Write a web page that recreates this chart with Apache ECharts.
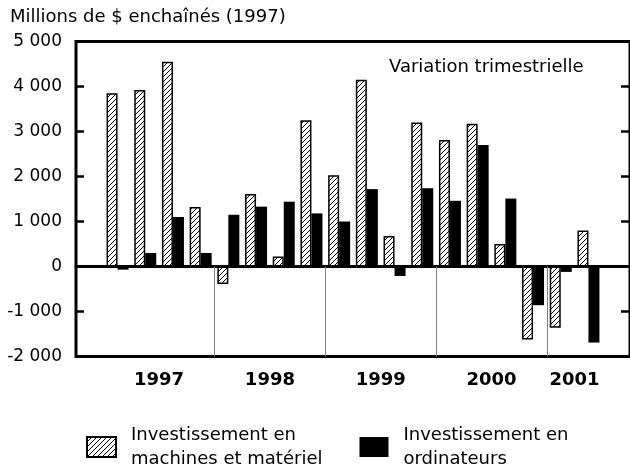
<!DOCTYPE html>
<html>
<head>
<meta charset="utf-8">
<script src="https://cdn.jsdelivr.net/npm/echarts@6/dist/echarts.min.js"></script>
<style>
  html, body { margin: 0; padding: 0; background: #fff; }
  #chart { width: 630px; height: 469px; }
</style>
</head>
<body>
<div id="chart"></div>
<script>
// trimestres, 1997 T1 -> 2001 T2
const quarters = ['1997 T1', '1997 T2', '1997 T3', '1997 T4',
  '1998 T1', '1998 T2', '1998 T3', '1998 T4',
  '1999 T1', '1999 T2', '1999 T3', '1999 T4',
  '2000 T1', '2000 T2', '2000 T3', '2000 T4',
  '2001 T1', '2001 T2'];
const machines = [3850, 3920, 4550, 1320, -390, 1610, 220, 3250,
  2030, 4150, 680, 3200, 2810, 3170, 500, -1620, -1360, 800];
const ordinateurs = [-70, 300, 1100, 300, 1150, 1330, 1440, 1180,
  1000, 1720, -210, 1740, 1460, 2700, 1510, -860, -120, -1690];
const years = ['1997', '1998', '1999', '2000', '2001'];
const yTicks = [-2000, -1000, 0, 1000, 2000, 3000, 4000, 5000];

const FONT = 'DejaVu Sans';

// one empty slot before and after the data
const categories = [''].concat(quarters, ['']);
const pad = arr => [null].concat(arr, [null]);

// year groups in slot units (slot i covers [i, i+1])
const yearCenters = [];
const yearSeparators = [];
years.forEach(y => {
  const idx = [];
  quarters.forEach((q, i) => { if (q.indexOf(y) === 0) idx.push(i + 1); });
  const first = idx[0], last = idx[idx.length - 1];
  yearCenters.push((first + last + 1) / 2);
  if (first > 1) yearSeparators.push(first);
});

function hatch() {
  const c = document.createElement('canvas');
  c.width = 5; c.height = 5;
  const ctx = c.getContext('2d');
  ctx.fillStyle = '#fff';
  ctx.fillRect(0, 0, 5, 5);
  ctx.strokeStyle = '#000';
  ctx.lineWidth = 1;
  ctx.beginPath();
  ctx.moveTo(0, 5); ctx.lineTo(5, 0);
  ctx.moveTo(-1, 1); ctx.lineTo(1, -1);
  ctx.moveTo(4, 6); ctx.lineTo(6, 4);
  ctx.stroke();
  return c;
}

function fmtNum(v) {
  const s = String(Math.abs(v)).replace(/\B(?=(\d{3})+(?!\d))/g, ' ');
  return v < 0 ? '-' + s : s;
}

const chart = echarts.init(document.getElementById('chart'), null, { renderer: 'canvas' });

chart.setOption({
  animation: false,
  backgroundColor: '#fff',
  textStyle: { fontFamily: FONT },
  title: [
    {
      text: 'Millions de $ enchaînés (1997)',
      left: 10, top: 8, padding: 0,
      textStyle: { fontFamily: FONT, fontSize: 18, fontWeight: 'normal', color: '#000' }
    },
    {
      text: 'Variation trimestrielle',
      left: 389, top: 58, padding: 0,
      textStyle: { fontFamily: FONT, fontSize: 18, fontWeight: 'normal', color: '#000' }
    }
  ],
  legend: {
    left: 86, top: 423,
    padding: 0,
    icon: 'rect',
    itemWidth: 29, itemHeight: 20,
    itemGap: 37,
    selectedMode: false,
    formatter: name => name.replace('Investissement en ', 'Investissement en\n'),
    textStyle: { fontFamily: FONT, fontSize: 18, lineHeight: 24, color: '#000', padding: [0, 0, 0, 10] }
  },
  grid: {
    left: 76, right: -2, top: 41.5, bottom: 112.5,
    show: true, borderColor: '#000', borderWidth: 3
  },
  xAxis: [
    {
      type: 'category',
      data: categories,
      position: 'top',
      axisLine: { onZero: true, lineStyle: { color: '#000', width: 3 } },
      axisTick: { show: false },
      axisLabel: { show: false }
    },
    {
      // années + séparateurs, en unités de trimestre
      type: 'value',
      min: 0, max: categories.length,
      position: 'bottom',
      axisLine: { show: false, onZero: false },
      splitLine: { show: false },
      axisTick: {
        show: true, inside: true, length: 90,
        customValues: yearSeparators,
        lineStyle: { color: '#808080', width: 1 }
      },
      axisLabel: {
        customValues: yearCenters,
        margin: 15,
        fontFamily: FONT, fontSize: 18, fontWeight: 'bold', color: '#000',
        formatter: v => {
          let best = 0;
          yearCenters.forEach((c, i) => { if (Math.abs(c - v) < Math.abs(yearCenters[best] - v)) best = i; });
          return years[best];
        }
      }
    }
  ],
  yAxis: [
    {
      type: 'value',
      min: yTicks[0], max: yTicks[yTicks.length - 1], interval: 1000,
      axisLine: { show: false },
      axisTick: { show: true, inside: true, length: 8, lineStyle: { color: '#000', width: 2.5 } },
      splitLine: { show: false },
      axisLabel: { margin: 14, fontFamily: FONT, fontSize: 17, color: '#000', formatter: fmtNum }
    },
    {
      type: 'value',
      position: 'right',
      min: yTicks[0], max: yTicks[yTicks.length - 1], interval: 1000,
      axisLine: { show: false },
      axisTick: { show: true, inside: true, length: 9, lineStyle: { color: '#000', width: 2.5 } },
      splitLine: { show: false },
      axisLabel: { show: false }
    }
  ],
  series: [
    {
      name: 'Investissement en machines et matériel',
      type: 'bar',
      data: pad(machines),
      barWidth: 11,
      barGap: '0%',
      itemStyle: {
        color: { image: hatch(), repeat: 'repeat' },
        borderColor: '#000',
        borderWidth: 1.5
      }
    },
    {
      name: 'Investissement en ordinateurs',
      type: 'bar',
      data: pad(ordinateurs),
      barWidth: 11,
      barGap: '0%',
      itemStyle: { color: '#000' }
    }
  ]
});
</script>
</body>
</html>
